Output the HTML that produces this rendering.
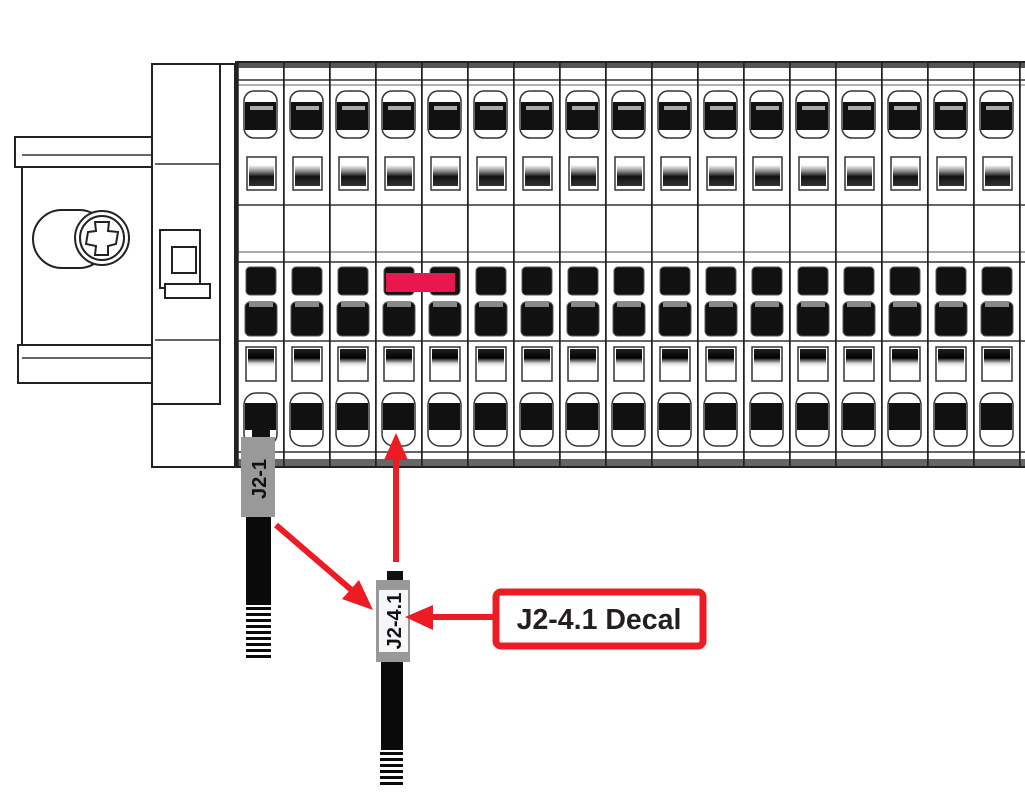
<!DOCTYPE html>
<html><head><style>html,body{margin:0;padding:0;background:#fff}svg{display:block}</style></head>
<body>
<svg width="1025" height="804" viewBox="0 0 1025 804" xmlns="http://www.w3.org/2000/svg">
<defs>
<linearGradient id="g1" x1="0" y1="0" x2="0" y2="1"><stop offset="0" stop-color="#fff"/><stop offset="0.3" stop-color="#888"/><stop offset="0.55" stop-color="#111"/><stop offset="1" stop-color="#333"/></linearGradient>
<linearGradient id="g2" x1="0" y1="0" x2="0" y2="1"><stop offset="0" stop-color="#222"/><stop offset="0.5" stop-color="#000"/><stop offset="0.8" stop-color="#ddd"/><stop offset="1" stop-color="#fff"/></linearGradient>
<pattern id="col" x="237" y="0" width="46" height="804" patternUnits="userSpaceOnUse">
  <rect x="0" y="62" width="46" height="405" fill="#fff"/>
  <rect x="0" y="62" width="46" height="6" fill="#555"/>
  <line x1="0" y1="80" x2="46" y2="80" stroke="#333" stroke-width="1.5"/>
  <line x1="0" y1="85" x2="46" y2="85" stroke="#666" stroke-width="1"/>
  <rect x="7" y="91" width="33" height="47" rx="10" fill="#fff" stroke="#333" stroke-width="1.5"/>
  <rect x="8" y="102" width="31" height="28" fill="#111"/>
  <rect x="13" y="106" width="23" height="4" fill="#aaa"/>
  <rect x="10" y="157" width="29" height="33" fill="#fff" stroke="#333" stroke-width="1.5"/>
  <rect x="12" y="165" width="25" height="21" fill="url(#g1)"/>
  <line x1="0" y1="205" x2="46" y2="205" stroke="#333" stroke-width="1.5"/>
  <line x1="0" y1="252" x2="46" y2="252" stroke="#555" stroke-width="1"/>
  <line x1="0" y1="262" x2="46" y2="262" stroke="#333" stroke-width="1.5"/>
  <rect x="9" y="267" width="30" height="28" rx="4" fill="#111" stroke="#555"/>
  <rect x="8" y="302" width="32" height="34" rx="5" fill="#111" stroke="#555"/>
  <rect x="12" y="301" width="24" height="6" fill="#888"/>
  <line x1="0" y1="341" x2="46" y2="341" stroke="#333" stroke-width="1.5"/>
  <rect x="9" y="347" width="30" height="34" fill="#fff" stroke="#333" stroke-width="1.5"/>
  <rect x="11" y="349" width="26" height="18" fill="url(#g2)"/>
  <rect x="7" y="393" width="33" height="53" rx="12" fill="#fff" stroke="#333" stroke-width="1.5"/>
  <rect x="8" y="403" width="31" height="27" fill="#111"/>
  <line x1="0" y1="452" x2="46" y2="452" stroke="#333" stroke-width="1.5"/>
  <rect x="0" y="459" width="46" height="8" fill="#666"/>
  <line x1="0.75" y1="62" x2="0.75" y2="467" stroke="#222" stroke-width="2"/>
</pattern>
</defs>

<g fill="#fff" stroke="#222" stroke-width="2">
  <rect x="15" y="137" width="140" height="30"/>
  <rect x="22" y="167" width="133" height="178"/>
  <rect x="18" y="345" width="137" height="38"/>
  <rect x="33" y="210" width="75" height="58" rx="29"/>
  <circle cx="102" cy="238" r="27"/>
  <circle cx="102" cy="238" r="22"/>
  <path d="M95 222 L109 222 L108 231 L118 232 L116 244 L108 246 L108 255 L95 255 L96 246 L86 244 L88 232 L96 231 Z"/>
</g>
<line x1="22" y1="155" x2="155" y2="155" stroke="#333" stroke-width="1.5"/>
<line x1="22" y1="358" x2="155" y2="358" stroke="#333" stroke-width="1.5"/>
<g fill="#fff" stroke="#222" stroke-width="2">
  <rect x="152" y="64" width="83" height="403"/>
  <rect x="152" y="64" width="68" height="340"/>
  <rect x="160" y="230" width="40" height="58"/>
  <rect x="172" y="247" width="24" height="26"/>
  <rect x="165" y="284" width="45" height="14"/>
</g>
<line x1="155" y1="164" x2="220" y2="164" stroke="#333" stroke-width="1.5"/>
<line x1="155" y1="340" x2="220" y2="340" stroke="#333" stroke-width="1.5"/>

<rect x="235" y="62" width="790" height="405" fill="url(#col)"/>
<line x1="235" y1="62" x2="1025" y2="62" stroke="#222" stroke-width="2"/>
<line x1="235" y1="467" x2="1025" y2="467" stroke="#222" stroke-width="2"/>
<line x1="236" y1="62" x2="236" y2="467" stroke="#222" stroke-width="2"/>
<rect x="386" y="273" width="69" height="19" fill="#e8174f"/>

<rect x="252" y="428" width="18" height="12" fill="#111"/>
<rect x="241" y="437" width="34" height="80" fill="#999"/>
<text transform="translate(266,479) rotate(-90)" text-anchor="middle" font-family="Liberation Sans, sans-serif" font-weight="bold" font-size="20" fill="#111">J2-1</text>
<rect x="246" y="517" width="25" height="88" fill="#0a0a0a"/>
<g fill="#0a0a0a">
  <rect x="246" y="607" width="25" height="3"/><rect x="246" y="613" width="25" height="3"/><rect x="246" y="619" width="25" height="3"/><rect x="246" y="625" width="25" height="3"/><rect x="246" y="631" width="25" height="3"/><rect x="246" y="637" width="25" height="3"/><rect x="246" y="643" width="25" height="3"/><rect x="246" y="649" width="25" height="3"/><rect x="246" y="655" width="25" height="3"/>
</g>

<rect x="387" y="571" width="16" height="12" fill="#111"/>
<rect x="376" y="580" width="34" height="82" fill="#999"/>
<rect x="379" y="590" width="29" height="62" fill="#f6f7f9"/>
<text transform="translate(401,621) rotate(-90)" text-anchor="middle" font-family="Liberation Sans, sans-serif" font-weight="bold" font-size="20" fill="#111">J2-4.1</text>
<rect x="381" y="662" width="22" height="88" fill="#0a0a0a"/>
<g fill="#0a0a0a">
  <rect x="380" y="752" width="23" height="3"/><rect x="380" y="758" width="23" height="3"/><rect x="380" y="764" width="23" height="3"/><rect x="380" y="770" width="23" height="3"/><rect x="380" y="776" width="23" height="3"/><rect x="380" y="782" width="23" height="3"/>
</g>

<g fill="#ed1c24" stroke="none">
  <line x1="276" y1="525" x2="355" y2="593" stroke="#ed1c24" stroke-width="6"/>
  <polygon points="373,610 342,599 359,580"/>
  <line x1="396" y1="562" x2="396" y2="455" stroke="#ed1c24" stroke-width="6"/>
  <polygon points="396,433 384,460 408,460"/>
  <line x1="495" y1="617" x2="430" y2="617" stroke="#ed1c24" stroke-width="6"/>
  <polygon points="405,617 433,605 433,630"/>
</g>
<rect x="496" y="592" width="207" height="54" rx="5" fill="#fff" stroke="#ed1c24" stroke-width="7"/>
<text x="599" y="629" text-anchor="middle" font-family="Liberation Sans, sans-serif" font-weight="bold" font-size="28.5" fill="#231f20">J2-4.1 Decal</text>
</svg>
</body></html>
